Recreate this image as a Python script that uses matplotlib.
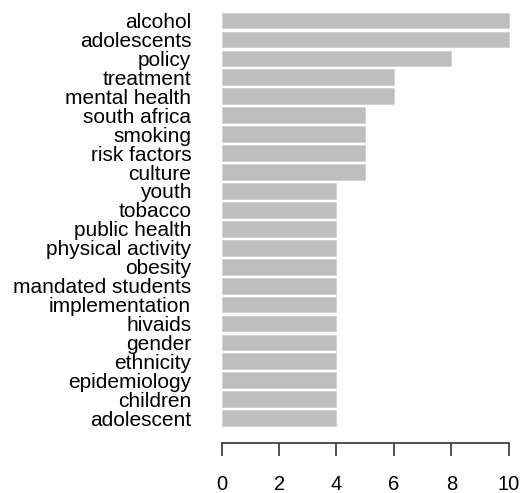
import matplotlib
matplotlib.use('Agg')
import matplotlib.pyplot as plt

# keywords and counts, top of chart first
terms = ['alcohol', 'adolescents', 'policy', 'treatment', 'mental health',
         'south africa', 'smoking', 'risk factors', 'culture', 'youth',
         'tobacco', 'public health', 'physical activity', 'obesity',
         'mandated students', 'implementation', 'hivaids', 'gender',
         'ethnicity', 'epidemiology', 'children', 'adolescent']
counts = [10, 10, 8, 6, 6, 5, 5, 5, 5, 4, 4, 4, 4, 4, 4, 4, 4, 4, 4, 4, 4, 4]
xticks = [0, 2, 4, 6, 8, 10]

plt.rcParams['font.family'] = ['Liberation Sans', 'DejaVu Sans']

fig = plt.figure(figsize=(5.21, 4.93), dpi=100)
ax = fig.add_axes([210.2 / 521, 50.4 / 493, 310 / 521, 446.5 / 493])

# R style barplot layout: width 1, space 0.2, first bar at bottom
n = len(terms)
ypos = [0.7 + 1.2 * i for i in range(n)]
ax.barh(ypos, counts[::-1], height=1.0, color='#bebebe', edgecolor='#d0d0d0', linewidth=0.6)

ax.set_xlim(-0.4, 10.4)
ax.set_ylim(-0.848, 27.448)
ax.set_yticks(ypos)
ax.set_yticklabels(terms[::-1], fontsize=15)
ax.set_xticks(xticks)
ax.set_xticklabels([str(t) for t in xticks], fontsize=14.5)

for s in ['top', 'right', 'left']:
    ax.spines[s].set_visible(False)
ax.spines['bottom'].set_bounds(0, 10)
ax.spines['bottom'].set_color('#333333')
ax.spines['bottom'].set_linewidth(1.2)
ax.tick_params(axis='y', length=0, pad=13.7, colors='black')
ax.tick_params(axis='x', direction='out', length=9.4, width=1.2, color='#333333',
               pad=14, labelcolor='black')

fig.savefig('out.png', dpi=100)
